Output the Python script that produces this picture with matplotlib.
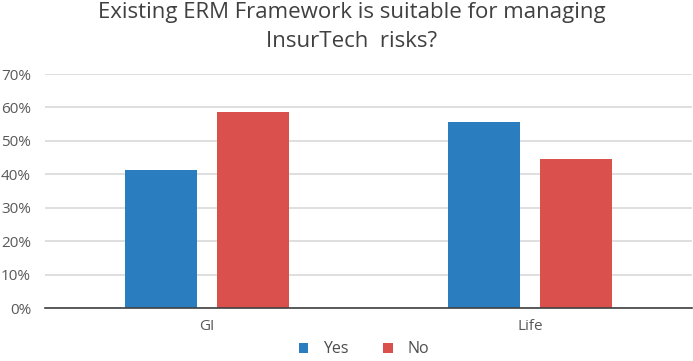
import matplotlib
matplotlib.use("Agg")
import matplotlib.pyplot as plt
import numpy as np
from matplotlib.ticker import PercentFormatter

categories = ["GI", "Life"]
yes_vals = [41.3, 55.5]
no_vals = [58.7, 44.5]
series_names = ["Yes", "No"]

plt.rcParams['font.family'] = ['Open Sans', 'DejaVu Sans']

fig = plt.figure(figsize=(6.93, 3.61), dpi=100)
ax = fig.add_axes([45 / 693, 1 - 308 / 361, 647 / 693, 234 / 361])

x = np.arange(len(categories))
w = 0.222
off = 0.142
ax.bar(x - off, yes_vals, w, color="#2a7ec0", label=series_names[0], zorder=3)
ax.bar(x + off, no_vals, w, color="#d9504c", label=series_names[1], zorder=3)

ax.set_xlim(-0.5, 1.5)
ax.set_ylim(0, 70)
ax.set_yticks(range(0, 71, 10))
ax.yaxis.set_major_formatter(PercentFormatter(decimals=0))
ax.set_xticks(x)
ax.set_xticklabels(categories)
ax.grid(axis="y", color="#d9d9d9", linewidth=1.2, zorder=0)
for s in ["top", "right", "left"]:
    ax.spines[s].set_visible(False)
ax.spines["bottom"].set_color("#404040")
ax.spines["bottom"].set_linewidth(1.2)
ax.spines["bottom"].set_zorder(4)
ax.tick_params(axis="both", length=0, labelsize=11, colors="#595959")
ax.tick_params(axis="y", pad=10)
ax.tick_params(axis="x", pad=8)

fig.text(0.508, 0.995, "Existing ERM Framework is suitable for managing\nInsurTech  risks?",
         ha="center", va="top", fontsize=16, color="#404040", linespacing=1.5)

fig.legend(loc="lower center", bbox_to_anchor=(0.525, -0.03), ncol=2, frameon=False,
           fontsize=11.5, handlelength=0.6, handleheight=0.6, columnspacing=2.2,
           handletextpad=0.9, labelcolor="#4d4d4d")

fig.savefig("out.png", dpi=100)
